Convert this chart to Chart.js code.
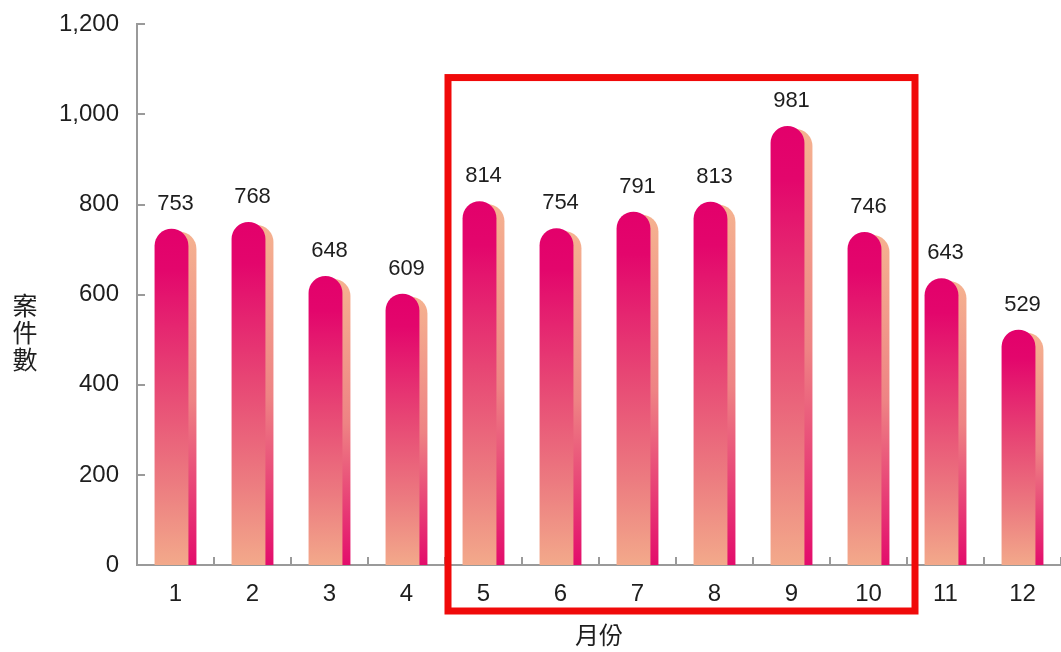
<!DOCTYPE html>
<html>
<head>
<meta charset="utf-8">
<script src="https://cdn.jsdelivr.net/npm/chart.js@4/dist/chart.umd.min.js"></script>
<style>
  html, body { margin: 0; padding: 0; background: #fff; }
  canvas { display: block; }
</style>
</head>
<body>
<canvas id="caseChart" width="1061" height="652"></canvas>
<script>
// monthly case counts
var months = ['1', '2', '3', '4', '5', '6', '7', '8', '9', '10', '11', '12'];
var cases = [753, 768, 648, 609, 814, 754, 791, 813, 981, 746, 643, 529];
var yTitle = ['案', '件', '數'];
var xTitle = '月份';

var LATIN = '"Liberation Sans", Arial, sans-serif';
var CJK = '"Noto Sans CJK TC", "Noto Sans CJK SC", sans-serif';
var AXIS = '#9a9a9a';

function roundTop(ctx, x, y, w, base) {
	var r = w / 2;
	ctx.beginPath();
	ctx.moveTo(x, base);
	ctx.lineTo(x, y + r);
	ctx.arc(x + r, y + r, r, Math.PI, 0);
	ctx.lineTo(x + w, base);
	ctx.closePath();
}

function mainGradient(ctx, top, base) {
	var g = ctx.createLinearGradient(0, top, 0, base);
	g.addColorStop(0, '#e3006b');
	g.addColorStop(0.12, '#e3066c');
	g.addColorStop(0.45, '#e74574');
	g.addColorStop(0.75, '#ec7b80');
	g.addColorStop(1, '#f3ab8b');
	return g;
}

// side strip behind each bar, plus a small shift of the bars
var barDecor = {
	id: 'barDecor',
	beforeDatasetsDraw: function(chart) {
		var ctx = chart.ctx;
		var area = chart.chartArea;
		ctx.save();
		ctx.beginPath();
		ctx.rect(area.left, area.top - 40, area.right - area.left, area.bottom - area.top + 40);
		ctx.clip();
		ctx.translate(-4, 3);
		chart.getDatasetMeta(0).data.forEach(function(el) {
			var w = el.width;
			var top = el.y + 3;
			var g = ctx.createLinearGradient(0, top, 0, el.base);
			g.addColorStop(0, '#f5b290');
			g.addColorStop(0.5, '#ee8384');
			g.addColorStop(1, '#e30a6b');
			ctx.fillStyle = g;
			roundTop(ctx, el.x - w / 2 + 8, top, w, el.base + 3);
			ctx.fill();
		});
	},
	afterDatasetsDraw: function(chart) {
		var ctx = chart.ctx;
		ctx.restore();
		// value labels
		ctx.save();
		ctx.font = '22px ' + LATIN;
		ctx.fillStyle = '#1e1e1e';
		ctx.textAlign = 'center';
		ctx.textBaseline = 'bottom';
		chart.getDatasetMeta(0).data.forEach(function(el, i) {
			ctx.fillText(String(cases[i]), el.x, el.y - 11);
		});
		ctx.restore();
	},
	afterDraw: function(chart) {
		var ctx = chart.ctx;
		var area = chart.chartArea;
		var xs = chart.scales.x;
		var ys = chart.scales.y;
		var half = (xs.getPixelForValue(1) - xs.getPixelForValue(0)) / 2;
		ctx.save();
		// inward tick marks
		ctx.strokeStyle = AXIS;
		ctx.lineWidth = 2;
		ys.ticks.forEach(function(t) {
			var py = Math.round(ys.getPixelForValue(t.value));
			ctx.beginPath();
			ctx.moveTo(area.left, py);
			ctx.lineTo(area.left + 8, py);
			ctx.stroke();
		});
		for (var i = 1; i <= months.length; i++) {
			var px = Math.round(xs.getPixelForValue(i) - half);
			ctx.beginPath();
			ctx.moveTo(px, area.bottom);
			ctx.lineTo(px, area.bottom - 8);
			ctx.stroke();
		}
		// y title, stacked characters
		ctx.font = '25px ' + CJK;
		ctx.fillStyle = '#1e1e1e';
		ctx.textAlign = 'center';
		ctx.textBaseline = 'middle';
		yTitle.forEach(function(c, k) {
			ctx.fillText(c, 25, 305 + k * 27);
		});
		// highlight box for months 5-10
		ctx.strokeStyle = '#f00a0a';
		ctx.lineWidth = 7;
		var left = xs.getPixelForValue(4) - half + 3;
		var right = xs.getPixelForValue(9) + half + 8;
		var top = ys.getPixelForValue(1082);
		var bottom = area.bottom + 46;
		ctx.strokeRect(left, top, right - left, bottom - top);
		ctx.restore();
	}
};

var ctx = document.getElementById('caseChart').getContext('2d');
new Chart(ctx, {
	type: 'bar',
	data: {
		labels: months,
		datasets: [{
			label: '案件數',
			data: cases,
			backgroundColor: function(c) {
				var chart = c.chart;
				if (!chart.chartArea) return '#e84876';
				var ys = chart.scales.y;
				return mainGradient(chart.ctx, ys.getPixelForValue(c.raw), ys.getPixelForValue(0));
			},
			borderWidth: 0,
			borderRadius: { topLeft: 100, topRight: 100, bottomLeft: 0, bottomRight: 0 },
			borderSkipped: 'start',
			barPercentage: 0.44,
			categoryPercentage: 1
		}]
	},
	plugins: [barDecor],
	options: {
		responsive: false,
		animation: false,
		layout: { padding: { top: 21, right: 0, left: 0, bottom: 0 } },
		plugins: {
			legend: { display: false },
			tooltip: { enabled: false }
		},
		scales: {
			x: {
				offset: true,
				grid: { display: false },
				border: { color: AXIS, width: 2 },
				ticks: { font: { size: 24, family: LATIN }, color: '#1e1e1e', padding: 7 },
				title: {
					display: true,
					text: xTitle,
					font: { size: 24, family: CJK },
					color: '#1e1e1e',
					padding: { top: 0, bottom: 3 }
				},
				afterFit: function(scale) { scale.height = 87; }
			},
			y: {
				min: 0,
				max: 1200,
				grid: { display: false },
				border: { color: AXIS, width: 2 },
				ticks: {
					stepSize: 200,
					font: { size: 24, family: LATIN },
					color: '#1e1e1e',
					padding: 10,
					callback: function(v) { return v.toLocaleString('en-US'); }
				},
				afterFit: function(scale) { scale.width = 137; }
			}
		}
	}
});
</script>
</body>
</html>
